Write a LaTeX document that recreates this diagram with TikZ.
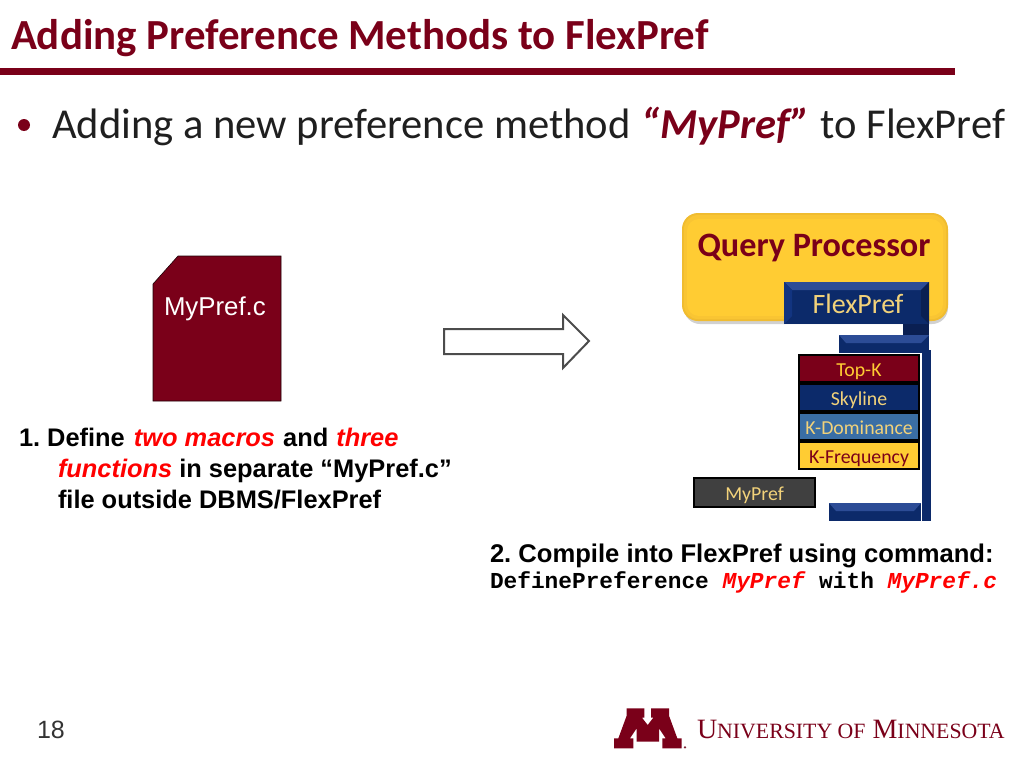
\documentclass[tikz,border=0pt]{standalone}
\usepackage{fontspec}
\setmainfont{Carlito}
\newfontfamily\arialf{Liberation Sans}
\newfontfamily\courf{Liberation Mono}
\newfontfamily\timesf{Liberation Serif}
\frenchspacing
\definecolor{maroon}{HTML}{7A0019}
\definecolor{gold}{HTML}{FFCC33}
\definecolor{golde}{HTML}{F0BC30}
\definecolor{goldm}{HTML}{F9C533}
\definecolor{navy}{HTML}{0C2A6A}
\definecolor{navyl}{HTML}{2C4C96}
\definecolor{navyd}{HTML}{0A1F52}
\definecolor{navys}{HTML}{123480}
\definecolor{kdom}{HTML}{3A6EA5}
\definecolor{paleg}{HTML}{F2D27A}
\definecolor{grayb}{HTML}{404040}
\newcommand{\fs}[1]{\fontsize{#1}{#1}\selectfont}
\tikzset{
  x=1pt,y=-1pt,
  plain/.style={inner sep=0pt,outer sep=0pt,anchor=base west},
  ctr/.style={inner sep=0pt,outer sep=0pt,anchor=base},
  method/.style={draw=black,line width=1.8pt,minimum width=120pt,minimum height=27pt,text height=19pt,text depth=4pt,inner sep=0pt,outer sep=0pt,anchor=north west,font=\fs{19.8}},
}
\begin{document}
\begin{tikzpicture}
\useasboundingbox (0,0) rectangle (1024,768);
% title
\node[plain,text=maroon,font=\fs{42.9}\bfseries] (title) at (11,49) {Adding Preference Methods to FlexPref};
\fill[maroon] (0,68) rectangle (955,75);
% bullet
\fill[maroon] (24,125) circle (6);
\node[plain,text=black!88,font=\fs{42.6}] (head) at (52,138) {Adding a new preference method\kern1.5pt{} \textcolor{maroon}{\textbf{\textit{“MyPref”}}}\kern1pt{} to FlexPref};
% file
\draw[draw=black!75!maroon,fill=maroon,line width=.6pt] (178,256) -- (281,256) -- (281,401) -- (153,401) -- (153,284) -- cycle;
\node[plain,text=white,font=\arialf\fs{25.8}] (fname) at (164,315) {MyPref.c};
% arrow
\draw[draw=black!70,fill=white,line width=2pt] (444,329) -- (563,329) -- (563,315) -- (589,341) -- (563,368) -- (563,354) -- (444,354) -- cycle;
% left text
\node[plain,font=\arialf\bfseries\fs{25.4}] (s1a) at (19,446) {1. Define\kern2pt{} \textcolor{red}{\textit{two macros}}\kern1pt{} and\kern1pt{} \textcolor{red}{\textit{three}}};
\node[plain,font=\arialf\bfseries\fs{25.4}] (s1b) at (58,477) {\textcolor{red}{\textit{functions}} in separate “MyPref.c”};
\node[plain,font=\arialf\bfseries\fs{25.4}] (s1c) at (58,508) {file outside DBMS/FlexPref};
% query processor
\fill[black!18,rounded corners=16pt] (684,217) rectangle (948,324);
\fill[golde,rounded corners=16pt] (682,213) rectangle (948,321);
\fill[goldm,rounded corners=14pt] (684,215) rectangle (946,319);
\fill[gold,rounded corners=12pt] (687,219) rectangle (943,316);
\node[ctr,text=maroon,font=\fs{34.2}\bfseries] (qp) at (814,256) {Query Processor};
% flexpref
\fill[navy] (784,282) rectangle (929,324);
\fill[navyl] (784,282) -- (929,282) -- (921,290) -- (792,290) -- cycle;
\fill[navys] (784,282) -- (792,290) -- (792,316) -- (784,324) -- cycle;
\fill[navyd] (929,282) -- (921,290) -- (921,316) -- (929,324) -- cycle;
\node[ctr,text=paleg,font=\fs{28}] (fp) at (858,313) {FlexPref};
% connectors
\fill[navyd] (903,324) rectangle (929,335);
\fill[navy] (839,335) rectangle (929,353);
\fill[navyl] (839,335) -- (929,335) -- (921,343) -- (846,343) -- cycle;
\fill[navy] (922,350) rectangle (931,521);
\fill[navy] (829,503) rectangle (921,521);
\fill[navyl] (829,503) -- (921,503) -- (914,511) -- (836,511) -- cycle;
% methods
\node[method,fill=maroon,text=gold] (m1) at (799,355) {Top-K};
\node[method,fill=navy,text=paleg] (m2) at (799,384) {Skyline};
\node[method,fill=kdom,text=paleg] (m3) at (799,413) {K-Dominance};
\node[method,fill=gold,text=maroon] (m4) at (799,442) {K-Frequency};
\node[method,fill=grayb,text=paleg,minimum width=121pt,minimum height=29pt] (m5) at (694,478) {MyPref};
% compile
\node[plain,font=\arialf\bfseries\fs{25.6}] (c1) at (490,562) {2. Compile into FlexPref using command:};
\node[plain,font=\courf\bfseries\fs{22.8}] (c2) at (490,588) {DefinePreference \textcolor{red}{\textit{MyPref}} with \textcolor{red}{\textit{MyPref.c}}};
% page
\node[plain,font=\arialf\fs{25},text=black!80] (pg) at (37,738) {18};
% logo
\begin{scope}[shift={(600,695)},x=0.3333pt,y=-0.3333pt]
\fill[maroon] (42,160) -- (42,130) -- (55,130) -- (80,62) -- (80,40) -- (133,40) -- (133,68) -- (126,68) -- (143,90) -- (160,68) -- (153,68) -- (153,40) -- (207,40) -- (207,62) -- (232,130) -- (245,130) -- (245,160) -- (187,160) -- (187,130) -- (197,130) -- (177,100) -- (177,140) -- (110,140) -- (110,100) -- (90,130) -- (100,130) -- (100,160) -- cycle;
\fill[maroon!70!gray] (255,157) circle (4);
\end{scope}
\node[plain,text=maroon,font=\timesf\fs{28}] (logo) at (697,738) {U{\fs{21.8}NIVERSITY OF} {\fs{28}M}{\fs{21.8}INNESOTA}};
\end{tikzpicture}
\end{document}
